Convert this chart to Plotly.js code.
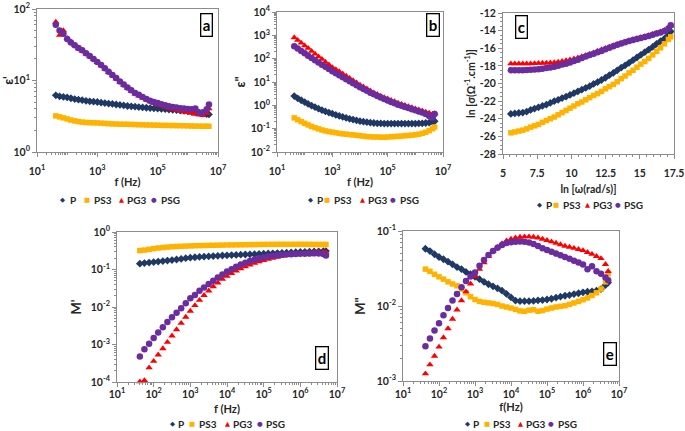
<!DOCTYPE html>
<html>
<head>
<meta charset="utf-8">
<script src="https://cdn.plot.ly/plotly-3.0.1.min.js"></script>
<style>
html,body{margin:0;padding:0;background:#ffffff;}
#chart{width:685px;height:431px;}
</style>
</head>
<body>
<div id="chart"></div>
<script>
// ---------------- data ----------------
const seriesNames = ['P', 'PS3', 'PG3', 'PSG'];

const freqHz = [42, 56, 75, 100, 133, 178, 237, 316, 422, 562, 750, 1000,
  1334, 1778, 2371, 3162, 4217, 5623, 7499, 10000, 13335, 17783, 23714, 31623,
  42170, 56234, 74989, 100000, 133352, 177828, 237137, 316228, 421697, 562341,
  749894, 1000000, 1333521, 1778279, 2371374, 3162278, 4216965, 5000000];

// (a) epsilon'
const epsReal_P   = [6.2,6.0,5.9,5.8,5.65,5.5,5.4,5.3,5.2,5.12,5.05,5.0,4.9,4.83,4.76,4.7,4.62,4.55,4.48,4.4,4.35,4.3,4.25,4.2,4.16,4.12,4.08,4.05,4.01,3.97,3.93,3.9,3.85,3.8,3.75,3.7,3.65,3.6,3.55,3.45,3.38,3.35];
const epsReal_PS3 = [3.2,3.1,3.0,2.9,2.8,2.72,2.66,2.62,2.59,2.57,2.56,2.55,2.53,2.51,2.49,2.47,2.46,2.45,2.445,2.44,2.43,2.42,2.41,2.4,2.39,2.385,2.375,2.37,2.36,2.355,2.35,2.345,2.34,2.335,2.33,2.32,2.31,2.305,2.3,2.295,2.29,2.29];
const epsReal_PG3 = [66,43,50,39,35,31,28,26,23.5,21.5,19.8,18,16.2,14.5,13,11.7,10.5,9.5,8.6,7.8,7.1,6.5,6.1,5.7,5.35,5.05,4.8,4.6,4.42,4.25,4.1,3.98,3.86,3.75,3.65,3.58,3.5,3.4,3.3,3.25,3.5,4.05];
const epsReal_PSG = [60,50,45,38,34,31,28.5,26.5,24,22,20,18.2,16.5,14.8,13.3,11.9,10.8,9.7,8.8,8.0,7.3,6.7,6.3,5.9,5.5,5.2,5.0,4.85,4.65,4.5,4.38,4.27,4.18,4.1,4.05,4.0,3.95,4.05,3.55,3.6,3.95,4.6];

// (b) epsilon''
const epsImag_P   = [2.5,2.0,1.65,1.38,1.15,0.97,0.83,0.72,0.62,0.55,0.49,0.44,0.39,0.35,0.32,0.29,0.265,0.245,0.225,0.21,0.2,0.19,0.18,0.175,0.17,0.168,0.166,0.165,0.165,0.165,0.165,0.165,0.165,0.165,0.165,0.165,0.167,0.17,0.175,0.18,0.19,0.21];
const epsImag_PS3 = [0.29,0.24,0.2,0.17,0.145,0.125,0.11,0.098,0.088,0.08,0.075,0.071,0.067,0.063,0.06,0.058,0.056,0.054,0.052,0.05,0.048,0.046,0.045,0.044,0.044,0.043,0.043,0.044,0.045,0.046,0.047,0.048,0.05,0.051,0.053,0.055,0.058,0.063,0.07,0.082,0.1,0.118];
const epsImag_PG3 = [800,620,470,360,280,210,160,122,95,72,55,42,34,28,22.5,18,14.5,11.7,9.3,7.5,6.2,5.1,4.2,3.5,2.95,2.5,2.15,1.9,1.65,1.45,1.27,1.12,1.0,0.9,0.8,0.72,0.64,0.58,0.52,0.47,0.43,0.45];
const epsImag_PSG = [340,270,215,170,135,107,85,68,55,45,36,29,24,19.5,16,13,10.7,8.8,7.3,6.0,5.0,4.2,3.5,2.95,2.5,2.15,1.85,1.6,1.4,1.22,1.07,0.95,0.85,0.76,0.68,0.61,0.55,0.49,0.43,0.35,0.30,0.42];

// (c) ln sigma
const lnSigma_P   = [-23.45,-23.4,-23.35,-23.3,-23.2,-23.0,-22.85,-22.7,-22.55,-22.4,-22.2,-22.0,-21.85,-21.65,-21.5,-21.3,-21.1,-20.9,-20.7,-20.5,-20.3,-20.05,-19.85,-19.6,-19.35,-19.05,-18.8,-18.5,-18.2,-17.95,-17.65,-17.35,-17.05,-16.75,-16.45,-16.15,-15.85,-15.5,-15.2,-14.9,-14.5,-14.1];
const lnSigma_PS3 = [-25.6,-25.5,-25.4,-25.3,-25.15,-24.95,-24.8,-24.65,-24.4,-24.2,-24.0,-23.8,-23.55,-23.3,-23.05,-22.8,-22.55,-22.3,-22.1,-21.85,-21.6,-21.35,-21.15,-20.9,-20.6,-20.35,-20.1,-19.8,-19.45,-19.15,-18.8,-18.5,-18.15,-17.8,-17.5,-17.15,-16.75,-16.35,-15.95,-15.5,-15.0,-14.7];
const lnSigma_PG3 = [-17.75,-17.75,-17.75,-17.75,-17.75,-17.75,-17.72,-17.7,-17.68,-17.67,-17.65,-17.62,-17.55,-17.48,-17.4,-17.3,-17.2,-17.08,-16.95,-16.8,-16.65,-16.5,-16.32,-16.15,-16.0,-15.85,-15.7,-15.55,-15.42,-15.28,-15.14,-15.0,-14.88,-14.77,-14.66,-14.55,-14.42,-14.28,-14.12,-13.95,-13.7,-13.45];
const lnSigma_PSG = [-18.5,-18.5,-18.5,-18.5,-18.48,-18.45,-18.42,-18.38,-18.32,-18.25,-18.18,-18.1,-17.98,-17.85,-17.75,-17.62,-17.45,-17.3,-17.12,-16.95,-16.78,-16.62,-16.46,-16.3,-16.12,-15.95,-15.78,-15.6,-15.46,-15.32,-15.18,-15.05,-14.94,-14.83,-14.72,-14.6,-14.47,-14.33,-14.2,-14.05,-13.75,-13.4];

// (d) M'
const mReal_P   = [0.143,0.148,0.153,0.158,0.163,0.168,0.173,0.178,0.185,0.192,0.2,0.207,0.212,0.216,0.22,0.224,0.228,0.232,0.236,0.239,0.242,0.245,0.248,0.251,0.254,0.257,0.26,0.264,0.267,0.27,0.274,0.277,0.281,0.285,0.289,0.293,0.296,0.299,0.302,0.305,0.308,0.31];
const mReal_PS3 = [0.32,0.33,0.345,0.36,0.375,0.385,0.395,0.405,0.41,0.415,0.42,0.425,0.43,0.433,0.436,0.44,0.442,0.445,0.447,0.45,0.452,0.454,0.456,0.458,0.46,0.462,0.464,0.466,0.467,0.468,0.469,0.47,0.47,0.47,0.47,0.47,0.47,0.469,0.468,0.467,0.466,0.465];
const mReal_PG3 = [1.02e-4,1.1e-4,2.4e-4,3.6e-4,5.3e-4,7.8e-4,1.15e-3,1.7e-3,2.5e-3,3.7e-3,5.4e-3,7.8e-3,0.011,0.0152,0.0205,0.027,0.035,0.044,0.055,0.067,0.079,0.092,0.105,0.119,0.133,0.147,0.161,0.175,0.189,0.202,0.215,0.227,0.238,0.248,0.257,0.265,0.273,0.281,0.289,0.295,0.29,0.285];
const mReal_PSG = [4.8e-4,7.5e-4,1.05e-3,1.5e-3,2.1e-3,2.9e-3,4.0e-3,5.3e-3,7.0e-3,9.2e-3,0.0125,0.017,0.021,0.027,0.033,0.041,0.05,0.061,0.074,0.088,0.102,0.118,0.135,0.152,0.168,0.185,0.2,0.212,0.223,0.232,0.24,0.247,0.252,0.256,0.26,0.262,0.264,0.266,0.27,0.268,0.26,0.235];

// (e) M''
const mImag_P   = [0.058,0.054,0.049,0.045,0.042,0.039,0.036,0.033,0.031,0.0285,0.0265,0.0245,0.0228,0.021,0.0195,0.0183,0.0172,0.016,0.0145,0.013,0.0118,0.0116,0.0116,0.0116,0.0117,0.0119,0.012,0.0122,0.0125,0.0129,0.0133,0.0137,0.014,0.0144,0.0148,0.0152,0.0155,0.0157,0.016,0.0168,0.019,0.0205];
const mImag_PS3 = [0.031,0.029,0.0265,0.0245,0.0228,0.021,0.0197,0.0186,0.0168,0.015,0.0133,0.0122,0.0115,0.0112,0.011,0.0108,0.0105,0.01,0.0097,0.0094,0.009,0.0086,0.0085,0.0088,0.0089,0.0085,0.0087,0.0091,0.0094,0.0097,0.0099,0.0101,0.0105,0.011,0.0115,0.0121,0.0128,0.0138,0.015,0.0168,0.021,0.027];
const mImag_PG3 = [1.25e-3,1.65e-3,2.15e-3,2.85e-3,3.8e-3,5.0e-3,6.7e-3,8.9e-3,0.0118,0.0155,0.0198,0.025,0.031,0.038,0.046,0.054,0.061,0.068,0.074,0.078,0.081,0.083,0.084,0.084,0.083,0.081,0.078,0.075,0.072,0.069,0.066,0.063,0.061,0.059,0.057,0.055,0.052,0.049,0.046,0.043,0.036,0.029];
const mImag_PSG = [2.9e-3,3.7e-3,4.7e-3,5.9e-3,7.5e-3,9.4e-3,0.0118,0.0145,0.0178,0.0215,0.0248,0.028,0.0345,0.041,0.048,0.054,0.06,0.065,0.069,0.071,0.072,0.0725,0.072,0.07,0.067,0.063,0.059,0.056,0.053,0.05,0.0475,0.045,0.0425,0.04,0.038,0.0357,0.031,0.034,0.029,0.027,0.024,0.022];

// ---------------- tick labels ----------------
const oddDecTicksX   = [1e1, 1e3, 1e5, 1e7];
const labelsOddDecX  = ['10<sup>1</sup>', '10<sup>3</sup>', '10<sup>5</sup>', '10<sup>7</sup>'];
const decadeTicksX   = [1e1, 1e2, 1e3, 1e4, 1e5, 1e6, 1e7];
const labelsAllDecX  = ['10<sup>1</sup>', '10<sup>2</sup>', '10<sup>3</sup>', '10<sup>4</sup>', '10<sup>5</sup>', '10<sup>6</sup>', '10<sup>7</sup>'];
const ticksA_y       = [1, 10, 100];
const labelsA_y      = ['10<sup>0</sup>', '10<sup>1</sup>', '10<sup>2</sup>'];
const ticksB_y       = [1e-2, 1e-1, 1, 1e1, 1e2, 1e3, 1e4];
const labelsB_y      = ['10<sup>-2</sup>', '10<sup>-1</sup>', '10<sup>0</sup>', '10<sup>1</sup>', '10<sup>2</sup>', '10<sup>3</sup>', '10<sup>4</sup>'];
const ticksC_x       = [5, 7.5, 10, 12.5, 15, 17.5];
const labelsC_x      = ['5', '7.5', '10', '12.5', '15', '17.5'];
const ticksC_y       = [-28, -26, -24, -22, -20, -18, -16, -14, -12];
const labelsC_y      = ['-28', '-26', '-24', '-22', '-20', '-18', '-16', '-14', '-12'];
const ticksD_y       = [1e-4, 1e-3, 1e-2, 1e-1, 1];
const labelsD_y      = ['10<sup>-4</sup>', '10<sup>-3</sup>', '10<sup>-2</sup>', '10<sup>-1</sup>', '10<sup>0</sup>'];
const ticksE_y       = [1e-3, 1e-2, 1e-1];
const labelsE_y      = ['10<sup>-3</sup>', '10<sup>-2</sup>', '10<sup>-1</sup>'];

// ---------------- styling ----------------
const colors  = ['#1F3864', '#FFB300', '#FF0000', '#6A2C9E'];
const symbols = ['diamond', 'square', 'triangle-up', 'circle'];
const glyphs  = ['\u25C6', '\u25A0', '\u25B2', '\u25CF'];
const mSizes  = [6, 5.5, 6.5, 6.5];

const W = 685, H = 431;
const fx = p => p / W;
const fy = p => 1 - p / H;
const FAMILY = 'Lato, "Liberation Sans", Arial, sans-serif';
const TXT = '#262626';
const AXC = '#8c8c8c';
const tickFont = {family: FAMILY, size: 10.5, color: TXT, weight: 'bold'};

function minorLog(e0, e1, withEvenDecades) {
  const v = [];
  for (let e = e0; e < e1; e++) {
    for (let m = 2; m <= 9; m++) v.push(m * Math.pow(10, e));
    if (withEvenDecades && e > e0 && (e - e0) % 2 === 1) v.push(Math.pow(10, e));
  }
  return v;
}

function baseAxis(px0, px1, anchor, isX, lblShift) {
  return {
    domain: isX ? [fx(px0), fx(px1)] : [fy(px1), fy(px0)],
    anchor: anchor,
    showline: true, linecolor: AXC, linewidth: 1, mirror: true,
    showgrid: false, zeroline: false,
    ticks: 'outside', ticklen: 4, tickwidth: 1, tickcolor: AXC,
    tickfont: tickFont, tickmode: 'array', ticklabelstandoff: lblShift
  };
}

function logAxis(px0, px1, anchor, isX, e0, e1, tv, tt, evenAsMinor, title, titleSize, standoff, lblShift) {
  const a = baseAxis(px0, px1, anchor, isX, lblShift);
  a.type = 'log';
  a.range = [e0, e1];
  a.tickvals = tv; a.ticktext = tt;
  a.minor = {tickmode: 'array', tickvals: minorLog(e0, e1, evenAsMinor), ticks: 'outside', ticklen: 2, tickwidth: 1, tickcolor: AXC, showgrid: false};
  a.title = {text: title, font: {family: FAMILY, size: titleSize, color: TXT, weight: 'bold'}, standoff: standoff};
  return a;
}

function linAxis(px0, px1, anchor, isX, r, tv, tt, minorStep, title, titleSize, standoff, lblShift) {
  const a = baseAxis(px0, px1, anchor, isX, lblShift);
  a.type = 'linear';
  a.range = r;
  a.tickvals = tv; a.ticktext = tt;
  a.minor = {dtick: minorStep, tick0: r[0], ticks: 'outside', ticklen: 2, tickwidth: 1, tickcolor: AXC, showgrid: false};
  a.title = {text: title, font: {family: FAMILY, size: titleSize, color: TXT, weight: 'bold'}, standoff: standoff};
  return a;
}

// ---------------- traces ----------------
const traces = [];
function addPanel(xa, ya, xs, ysList) {
  ysList.forEach((ys, i) => {
    traces.push({
      type: 'scatter', mode: 'markers', name: seriesNames[i],
      x: xs, y: ys, xaxis: xa, yaxis: ya, showlegend: false, cliponaxis: false,
      marker: {symbol: symbols[i], color: colors[i], size: mSizes[i], line: {width: 0}}
    });
  });
}
const lnOmega = freqHz.map(f => Math.log(2 * Math.PI * f));

addPanel('x',  'y',  freqHz, [epsReal_P, epsReal_PS3, epsReal_PG3, epsReal_PSG]);
addPanel('x2', 'y2', freqHz, [epsImag_P, epsImag_PS3, epsImag_PG3, epsImag_PSG]);
addPanel('x3', 'y3', lnOmega, [lnSigma_P, lnSigma_PS3, lnSigma_PG3, lnSigma_PSG]);
addPanel('x4', 'y4', freqHz, [mReal_P, mReal_PS3, mReal_PG3, mReal_PSG]);
addPanel('x5', 'y5', freqHz, [mImag_P, mImag_PS3, mImag_PG3, mImag_PSG]);

// ---------------- layout ----------------
const layout = {
  width: W, height: H,
  margin: {l: 0, r: 0, t: 0, b: 0},
  paper_bgcolor: '#ffffff', plot_bgcolor: '#ffffff',
  showlegend: false,
  font: {family: FAMILY, color: TXT},
  xaxis:  logAxis(37, 218, 'y', true, 1, 7, oddDecTicksX, labelsOddDecX, true, 'f (Hz)', 11, 2, 5),
  yaxis:  logAxis(9, 152, 'x', false, 0, 2, ticksA_y, labelsA_y, false, "ε'", 13, 2, 0),
  xaxis2: logAxis(277, 443, 'y2', true, 1, 7, oddDecTicksX, labelsOddDecX, true, 'f (Hz)', 11, 2, 5),
  yaxis2: logAxis(12, 152, 'x2', false, -2, 4, ticksB_y, labelsB_y, false, 'ε"', 13, 2, 0),
  xaxis3: linAxis(503, 674, 'y3', true, [5, 17.5], ticksC_x, labelsC_x, 0.5, 'ln [ω(rad/s)]', 10.5, 8, 5),
  yaxis3: linAxis(13, 154, 'x3', false, [-28, -12], ticksC_y, labelsC_y, 0.5, 'ln [σ(Ω<sup>-1</sup>.cm<sup>-1</sup>)]', 10.5, 2, 0),
  xaxis4: logAxis(117, 337, 'y4', true, 1, 7, decadeTicksX, labelsAllDecX, false, 'f (Hz)', 11, 6, -2),
  yaxis4: logAxis(232, 382, 'x4', false, -4, 0, ticksD_y, labelsD_y, false, "M'", 13, 6, 0),
  xaxis5: logAxis(403, 619, 'y5', true, 1, 7, decadeTicksX, labelsAllDecX, false, 'f(Hz)', 11, 3, -1),
  yaxis5: logAxis(231, 381, 'x5', false, -3, -1, ticksE_y, labelsE_y, false, 'M"', 13, 8, 0),
  annotations: []
};

// panel letters
const letterBoxes = [['a', 206, 25], ['b', 433, 25], ['c', 521, 27], ['d', 321.5, 357.5], ['e', 609.5, 353.5]];
letterBoxes.forEach(([t, x, y]) => {
  layout.annotations.push({
    xref: 'paper', yref: 'paper', x: fx(x), y: fy(y), xanchor: 'center', yanchor: 'middle',
    text: '<b>' + t + '</b>', showarrow: false,
    font: {family: FAMILY, size: 15, color: '#000'},
    bordercolor: '#000', borderwidth: 1.3, borderpad: 1.5, bgcolor: '#fff'
  });
});

// legends (one row per panel)
const legendRows = [
  {y: 200, sym: [63, 87, 121, 154], lab: [69, 93, 126, 160]},
  {y: 200, sym: [310, 327, 362, 393], lab: [316, 333, 367, 399]},
  {y: 205, sym: [539, 556, 587, 618], lab: [545, 562, 592, 623]},
  {y: 424, sym: [172, 192, 227, 260], lab: [177, 198, 232, 265]},
  {y: 424, sym: [467, 487, 520, 551], lab: [472, 492, 525, 557]}
];
legendRows.forEach(row => {
  seriesNames.forEach((n, i) => {
    layout.annotations.push({
      xref: 'paper', yref: 'paper', x: fx(row.sym[i]), y: fy(row.y), xanchor: 'center', yanchor: 'middle',
      text: glyphs[i], showarrow: false, borderpad: 0,
      font: {family: '"DejaVu Sans", sans-serif', size: 6.5, color: colors[i]}
    });
    layout.annotations.push({
      xref: 'paper', yref: 'paper', x: fx(row.lab[i]), y: fy(row.y), xanchor: 'left', yanchor: 'middle',
      text: '<b>' + n + '</b>', showarrow: false, borderpad: 0,
      font: {family: FAMILY, size: 10, color: TXT}
    });
  });
});

Plotly.newPlot('chart', traces, layout, {staticPlot: true, displayModeBar: false});
</script>
</body>
</html>
